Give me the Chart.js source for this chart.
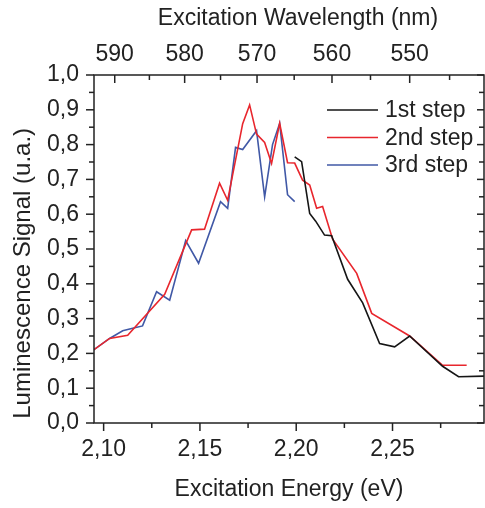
<!DOCTYPE html>
<html>
<head>
<meta charset="utf-8">
<script src="https://cdn.jsdelivr.net/npm/chart.js@4.4.1/dist/chart.umd.min.js"></script>
<style>
  html, body { margin: 0; padding: 0; background: #fff; }
</style>
</head>
<body>
<canvas id="chart" width="485" height="508"></canvas>
<script>
// hc constant the top (wavelength) axis was built with
const hc = 1242.4;

const seriesLabels = ['1st step', '2nd step', '3rd step'];
const seriesColors = ['#151515', '#e8262d', '#4058a6'];

const step1Energy = [2.1992, 2.2028, 2.2070, 2.2101, 2.2147, 2.2184, 2.2267, 2.2345, 2.2433, 2.2511, 2.2589, 2.2760, 2.2843, 2.3000];
const step1Signal = [0.765, 0.751, 0.602, 0.580, 0.540, 0.538, 0.413, 0.345, 0.228, 0.219, 0.250, 0.163, 0.133, 0.135];

const step2Energy = [2.0948, 2.1031, 2.1125, 2.1317, 2.1457, 2.1524, 2.1602, 2.1644, 2.1722, 2.1758, 2.1794, 2.1836, 2.1872, 2.1914, 2.1955, 2.1992, 2.2033, 2.2070, 2.2106, 2.2137, 2.2189, 2.2314, 2.2392, 2.2589, 2.2760, 2.2885];
const step2Signal = [0.210, 0.243, 0.252, 0.370, 0.555, 0.557, 0.689, 0.640, 0.860, 0.914, 0.830, 0.806, 0.746, 0.861, 0.748, 0.747, 0.698, 0.684, 0.617, 0.622, 0.528, 0.430, 0.315, 0.250, 0.166, 0.166];

const step3Energy = [2.0948, 2.1031, 2.1099, 2.1151, 2.1202, 2.1275, 2.1343, 2.1426, 2.1493, 2.1607, 2.1644, 2.1685, 2.1722, 2.1794, 2.1836, 2.1877, 2.1914, 2.1955, 2.1992];
const step3Signal = [0.210, 0.243, 0.265, 0.272, 0.279, 0.377, 0.353, 0.524, 0.459, 0.636, 0.617, 0.792, 0.786, 0.840, 0.650, 0.800, 0.861, 0.656, 0.636];

const energyTicks = [2.10, 2.15, 2.20, 2.25];
const energyMinor = [2.125, 2.175, 2.225, 2.275];
const wavelengthTicks = [590, 580, 570, 560, 550];
const wavelengthMinor = [585, 575, 565, 555, 545];
const signalTicks = [0, 0.1, 0.2, 0.3, 0.4, 0.5, 0.6, 0.7, 0.8, 0.9, 1.0];
const signalMinor = [0.05, 0.15, 0.25, 0.35, 0.45, 0.55, 0.65, 0.75, 0.85, 0.95];

const topTitle = 'Excitation Wavelength (nm)';
const leftTitle = 'Luminescence Signal (u.a.)';

const fontFamily = '"Liberation Sans", Arial, sans-serif';
const textColor = '#222';

function points(xs, ys) {
    return xs.map((x, i) => ({ x: x, y: ys[i] }));
}

const comma = (v, d) => v.toFixed(d).replace('.', ',');

// frame + tick marks (inside on top/right, outside on bottom/left)
const frameTicks = {
    id: 'frameTicks',
    afterDatasetsDraw(chart) {
        const { ctx, chartArea: a, scales } = chart;
        ctx.save();
        ctx.strokeStyle = textColor;
        ctx.lineWidth = 1.5;
        ctx.strokeRect(a.left, a.top, a.right - a.left, a.bottom - a.top);
        const mark = (x1, y1, x2, y2) => {
            ctx.beginPath();
            ctx.moveTo(x1, y1);
            ctx.lineTo(x2, y2);
            ctx.stroke();
        };
        energyTicks.forEach(v => { const x = scales.x.getPixelForValue(v); mark(x, a.bottom, x, a.bottom + 8); });
        energyMinor.forEach(v => { const x = scales.x.getPixelForValue(v); mark(x, a.bottom, x, a.bottom + 5); });
        wavelengthTicks.forEach(nm => { const x = scales.x2.getPixelForValue(hc / nm); mark(x, a.top, x, a.top + 8); });
        wavelengthMinor.forEach(nm => { const x = scales.x2.getPixelForValue(hc / nm); mark(x, a.top, x, a.top + 5); });
        signalTicks.forEach(v => {
            const y = scales.y.getPixelForValue(v);
            mark(a.left - 8, y, a.left, y);
            mark(a.right - 7, y, a.right, y);
        });
        signalMinor.forEach(v => {
            const y = scales.y.getPixelForValue(v);
            mark(a.left - 5, y, a.left, y);
            mark(a.right - 5, y, a.right, y);
        });
        ctx.restore();
    }
};

// legend and the two titles that sit off-centre in the original
const extras = {
    id: 'extras',
    afterDraw(chart) {
        const { ctx, chartArea: a, scales } = chart;
        ctx.save();
        ctx.font = '23px ' + fontFamily;
        ctx.textBaseline = 'middle';
        chart.data.datasets.forEach((ds, i) => {
            const y = a.top + 35 + i * 27.5;
            ctx.strokeStyle = ds.borderColor;
            ctx.lineWidth = 1.6;
            ctx.beginPath();
            ctx.moveTo(a.right - 157, y);
            ctx.lineTo(a.right - 106, y);
            ctx.stroke();
            ctx.fillStyle = textColor;
            ctx.fillText(ds.label, a.right - 99, y + 1);
        });

        ctx.fillStyle = textColor;
        ctx.textAlign = 'center';
        ctx.fillText(topTitle, (a.left + a.right) / 2 + 9, 19);

        ctx.font = '24px ' + fontFamily;
        ctx.translate(23, scales.y.getPixelForValue(0.43));
        ctx.rotate(-Math.PI / 2);
        ctx.fillText(leftTitle, 0, 0);
        ctx.restore();
    }
};

const datasets = [
    points(step1Energy, step1Signal),
    points(step2Energy, step2Signal),
    points(step3Energy, step3Signal)
].map((data, i) => ({
    label: seriesLabels[i],
    data: data,
    borderColor: seriesColors[i],
    backgroundColor: seriesColors[i],
    borderWidth: 1.6,
    pointRadius: 0,
    tension: 0,
    fill: false
}));

const tickFont = { family: fontFamily, size: 23 };

new Chart(document.getElementById('chart'), {
    type: 'line',
    data: { datasets: datasets },
    options: {
        responsive: false,
        animation: false,
        layout: { padding: { right: 1 } },
        plugins: { legend: { display: false }, tooltip: { enabled: false } },
        scales: {
            x: {
                type: 'linear',
                position: 'bottom',
                min: 2.095,
                max: 2.2975,
                afterBuildTicks: s => { s.ticks = energyTicks.map(v => ({ value: v })); },
                afterFit: s => { s.height = 85; },
                grid: { display: false, drawTicks: false },
                border: { display: false },
                ticks: { font: tickFont, color: textColor, padding: 13, maxRotation: 0, callback: v => comma(v, 2) },
                title: { display: true, text: 'Excitation Energy (eV)', font: tickFont, color: textColor, padding: { top: 0, bottom: 5 } }
            },
            x2: {
                type: 'linear',
                position: 'top',
                min: 2.095,
                max: 2.2975,
                afterBuildTicks: s => { s.ticks = wavelengthTicks.map(nm => ({ value: hc / nm })); },
                afterFit: s => { s.height = 75; },
                grid: { display: false, drawTicks: false },
                border: { display: false },
                ticks: { font: tickFont, color: textColor, padding: 7, maxRotation: 0, callback: v => Math.round(hc / v) }
            },
            y: {
                type: 'linear',
                position: 'left',
                min: 0,
                max: 1,
                afterBuildTicks: s => { s.ticks = signalTicks.map(v => ({ value: v })); },
                afterFit: s => { s.width = 94; },
                grid: { display: false, drawTicks: false },
                border: { display: false },
                ticks: { font: tickFont, color: textColor, padding: 15, callback: v => comma(v, 1) }
            }
        }
    },
    plugins: [frameTicks, extras]
});
</script>
</body>
</html>
